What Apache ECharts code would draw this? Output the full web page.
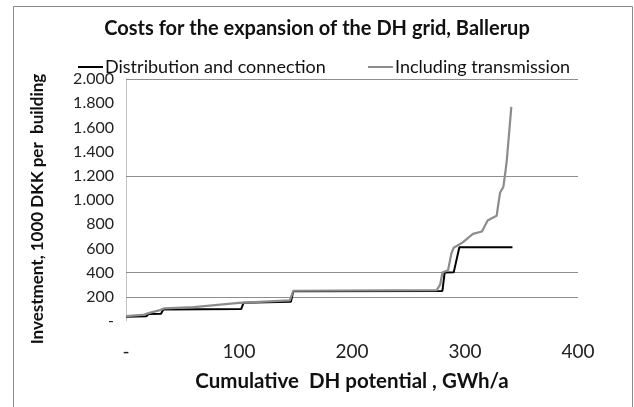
<!DOCTYPE html>
<html>
<head>
<meta charset="utf-8">
<script src="https://cdn.jsdelivr.net/npm/echarts@6/dist/echarts.min.js"></script>
<style>
  html, body { margin: 0; padding: 0; background: #fff; }
  #main { width: 634px; height: 407px; }
</style>
</head>
<body>
<div id="main"></div>
<script>
// series names
var seriesNames = ['Distribution and connection', 'Including transmission'];

// cumulative DH potential (GWh/a) / investment (1000 DKK per building)
var distX = [0, 18, 20, 31, 33, 102, 104, 146, 148, 280, 282, 290, 295, 342];
var distY = [35, 40, 58, 60, 95, 100, 150, 160, 245, 248, 400, 402, 610, 610];

var transX = [0, 15, 20, 30, 34, 60, 100, 145, 148, 275, 278, 280, 285, 288, 290, 298, 307, 315, 320, 328, 331, 334, 336, 337, 339, 341];
var transY = [40, 50, 65, 90, 105, 115, 150, 170, 250, 255, 300, 400, 420, 560, 605, 650, 720, 740, 830, 870, 1060, 1110, 1250, 1330, 1550, 1770];

// horizontal gridlines that show in the picture
var gridValues = [200, 400, 1200, 2000];

function pairs(xs, ys) {
    var res = [];
    for (var i = 0; i < xs.length; i++) {
        res.push([xs[i], ys[i]]);
    }
    return res;
}

// 2000 -> "2.000", 0 -> "-"
function thousands(v) {
    if (v === 0) return '-';
    return String(v).replace(/\B(?=(\d{3})+(?!\d))/g, '.');
}

var chart = echarts.init(document.getElementById('main'));
var font = 'Lato, "Liberation Sans", sans-serif';

function legendAt(left, name, color) {
    return {
        left: left,
        top: 53,
        itemWidth: 25,
        itemHeight: 2,
        icon: 'rect',
        data: [name],
        itemStyle: { color: color },
        textStyle: { fontFamily: font, fontSize: 18, color: '#111', padding: [0, 0, 0, -3] }
    };
}

var option = {
    animation: false,
    textStyle: { fontFamily: font },
    title: {
        text: 'Costs for the expansion of the DH grid, Ballerup',
        left: 'center',
        top: 14,
        textStyle: { fontFamily: font, fontSize: 20, fontWeight: 'bold', color: '#111' }
    },
    legend: [
        legendAt(73, seriesNames[0], '#000'),
        legendAt(363, seriesNames[1], '#8c8c8c')
    ],
    graphic: [
        {
            type: 'rect',
            shape: { x: 13.5, y: 6.5, width: 619, height: 420 },
            style: { fill: 'none', stroke: '#8a8a8a', lineWidth: 1 },
            silent: true
        },
        {
            // y axis title, placed a little below the plot centre like the original
            type: 'text',
            x: 38,
            y: 209,
            rotation: Math.PI / 2,
            style: {
                text: 'Investment, 1000 DKK per  building',
                font: 'bold 17px ' + font,
                fill: '#111',
                align: 'center',
                verticalAlign: 'middle'
            },
            silent: true
        }
    ],
    grid: { left: 126, right: 56, top: 79, bottom: 86 },
    xAxis: {
        type: 'value',
        min: 0,
        max: 400,
        interval: 100,
        name: 'Cumulative  DH potential , GWh/a',
        nameLocation: 'middle',
        nameGap: 50,
        nameTextStyle: { fontFamily: font, fontSize: 20.5, fontWeight: 'bold', color: '#111' },
        axisLine: { show: false },
        axisTick: { show: false },
        splitLine: { show: false },
        axisLabel: {
            fontFamily: font, fontSize: 19, color: '#222', margin: 21,
            formatter: thousands
        }
    },
    yAxis: {
        type: 'value',
        min: 0,
        max: 2000,
        interval: 200,
        axisLine: { show: true, lineStyle: { color: '#c4c4c4', width: 1 } },
        axisTick: { show: false },
        splitLine: { show: false },
        axisLabel: {
            fontFamily: font, fontSize: 16, color: '#222', margin: 12,
            formatter: thousands
        }
    },
    series: [
        {
            name: seriesNames[0],
            type: 'line',
            data: pairs(distX, distY),
            showSymbol: false,
            symbol: 'none',
            color: '#000',
            lineStyle: { color: '#000', width: 2 },
            z: 3
        },
        {
            name: seriesNames[1],
            type: 'line',
            data: pairs(transX, transY),
            showSymbol: false,
            symbol: 'none',
            color: '#8c8c8c',
            lineStyle: { color: '#8c8c8c', width: 2.2 },
            z: 4,
            markLine: {
                silent: true,
                symbol: 'none',
                label: { show: false },
                lineStyle: { color: '#8f8f8f', width: 1, type: 'solid' },
                data: gridValues.map(function (v) { return { yAxis: v }; }),
                z: 1
            }
        }
    ]
};

chart.setOption(option);
</script>
</body>
</html>
